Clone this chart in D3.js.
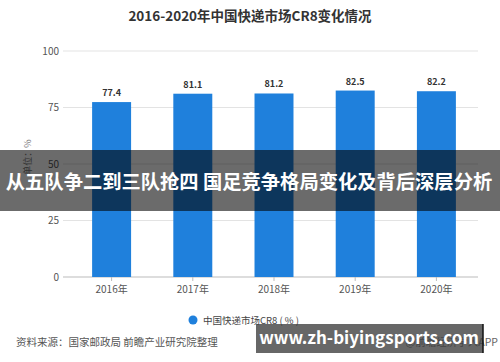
<!DOCTYPE html>
<html>
<head>
<meta charset="utf-8">
<script src="https://cdn.jsdelivr.net/npm/d3@7"></script>
<style>
  body { margin: 0; background: #fff; }
  svg { display: block; font-family: "Noto Sans CJK SC", "Noto Sans", sans-serif; }
</style>
</head>
<body>
<div id="chartDiv"></div>
<script>
// chart data
var years = ["2016年", "2017年", "2018年", "2019年", "2020年"];
var cr8 = [77.4, 81.1, 81.2, 82.5, 82.2];
var yTicks = [0, 25, 50, 75, 100];

var width = 500, height = 362;

var svg = d3.select("#chartDiv")
            .append("svg")
            .attr("width", width)
            .attr("height", height);

var xScale = d3.scaleBand()
               .domain(years)
               .range([71, 477])
               .paddingInner(0.52)
               .paddingOuter(0.26);

var yScale = d3.scaleLinear()
               .domain([0, 100])
               .range([277, 51]);

// title
svg.append("text")
   .attr("x", 250).attr("y", 21)
   .attr("text-anchor", "middle")
   .attr("font-size", 13.5).attr("font-weight", "bold")
   .attr("fill", "#333")
   .text("2016-2020年中国快递市场CR8变化情况");

// gridlines + y labels
svg.selectAll("line.grid")
   .data(yTicks)
   .enter()
   .append("line")
   .attr("class", "grid")
   .attr("x1", 63).attr("x2", 478)
   .attr("y1", function(d) { return yScale(d); })
   .attr("y2", function(d) { return yScale(d); })
   .attr("stroke", function(d) { return d === 0 ? "#bbb" : "#e3e3e3"; })
   .attr("stroke-width", 1);

svg.selectAll("text.ylab")
   .data(yTicks)
   .enter()
   .append("text")
   .attr("class", "ylab")
   .attr("x", 59)
   .attr("y", function(d) { return yScale(d) + 3.5; })
   .attr("text-anchor", "end")
   .attr("font-size", 10).attr("fill", "#555")
   .text(function(d) { return d; });

// unit label
svg.append("text")
   .attr("transform", "translate(31,157) rotate(-90)")
   .attr("text-anchor", "middle")
   .attr("font-size", 9).attr("fill", "#777")
   .text("单位：%");

// bars
svg.selectAll("rect.bar")
   .data(cr8)
   .enter()
   .append("rect")
   .attr("class", "bar")
   .attr("x", function(d, i) { return xScale(years[i]); })
   .attr("y", function(d) { return yScale(d); })
   .attr("width", xScale.bandwidth())
   .attr("height", function(d) { return yScale(0) - yScale(d); })
   .attr("fill", "#1f80dc");

// value labels
svg.selectAll("text.val")
   .data(cr8)
   .enter()
   .append("text")
   .attr("class", "val")
   .attr("x", function(d, i) { return xScale(years[i]) + xScale.bandwidth() / 2; })
   .attr("y", function(d) { return yScale(d) - 6; })
   .attr("text-anchor", "middle")
   .attr("font-size", 9).attr("font-weight", "bold")
   .attr("fill", "#333")
   .text(function(d) { return d.toFixed(1); });

// x ticks + labels
svg.selectAll("line.xtick")
   .data(years)
   .enter()
   .append("line")
   .attr("class", "xtick")
   .attr("x1", function(d) { return xScale(d) + xScale.bandwidth() / 2; })
   .attr("x2", function(d) { return xScale(d) + xScale.bandwidth() / 2; })
   .attr("y1", 277).attr("y2", 281)
   .attr("stroke", "#bbb");

svg.selectAll("text.xlab")
   .data(years)
   .enter()
   .append("text")
   .attr("class", "xlab")
   .attr("x", function(d) { return xScale(d) + xScale.bandwidth() / 2; })
   .attr("y", 293)
   .attr("text-anchor", "middle")
   .attr("font-size", 10).attr("fill", "#555")
   .text(function(d) { return d; });

// legend
svg.append("circle")
   .attr("cx", 193).attr("cy", 320).attr("r", 4.5)
   .attr("fill", "#1f80dc");
svg.append("text")
   .attr("x", 203).attr("y", 323.5)
   .attr("font-size", 9.5).attr("fill", "#444")
   .text("中国快递市场CR8 ( % )");

// source
svg.append("text")
   .attr("x", 16).attr("y", 346)
   .attr("font-size", 10.5).attr("fill", "#555")
   .text("资料来源：国家邮政局 前瞻产业研究院整理");

svg.append("text")
   .attr("x", 498).attr("y", 346)
   .attr("text-anchor", "end")
   .attr("font-size", 10.5).attr("fill", "#666")
   .text("@前瞻经济学人APP");

// overlay banner
svg.append("rect")
   .attr("x", 0).attr("y", 150)
   .attr("width", 500).attr("height", 61)
   .attr("fill", "rgba(0,0,0,0.58)");
svg.append("text")
   .attr("x", 249).attr("y", 189)
   .attr("text-anchor", "middle")
   .attr("font-size", 19.3).attr("font-weight", "bold")
   .attr("fill", "#fff")
   .attr("xml:space", "preserve")
   .text("从五队争二到三队抢四 国足竞争格局变化及背后深层分析");

// url banner
svg.append("rect")
   .attr("x", 256).attr("y", 324)
   .attr("width", 227).attr("height", 29)
   .attr("fill", "rgba(60,60,60,0.78)");
svg.append("line")
   .attr("x1", 483).attr("x2", 483)
   .attr("y1", 324).attr("y2", 353)
   .attr("stroke", "#111").attr("stroke-width", 1.5);
svg.append("text")
   .attr("x", 369).attr("y", 344)
   .attr("text-anchor", "middle")
   .attr("font-size", 17).attr("font-weight", "bold")
   .attr("fill", "#fff")
   .text("www.zh-biyingsports.com");
</script>
</body>
</html>
